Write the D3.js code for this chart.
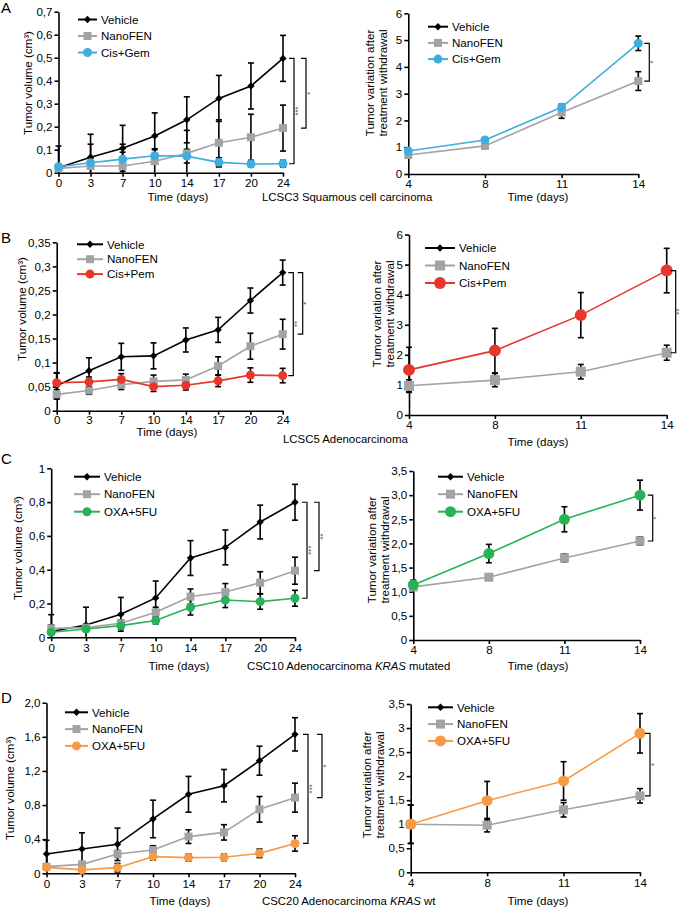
<!DOCTYPE html>
<html><head><meta charset="utf-8">
<script src="https://cdn.jsdelivr.net/npm/d3@7"></script>
<style>body{margin:0;background:#fff}svg{display:block}text{font-family:"Liberation Sans",Arial,sans-serif}</style>
</head><body>
<svg id="c" width="685" height="910"></svg>
<script>
// ---------- data ----------
const days = [0, 3, 7, 10, 14, 17, 20, 24];
const daysW = [4, 8, 11, 14];

// Panel A
const aVehicle = [0.022, 0.067, 0.106, 0.16, 0.23, 0.323, 0.377, 0.497];
const aVehicleErr = [0.094, 0.1, 0.1, 0.1, 0.1, 0.1, 0.1, 0.1];
const aNano = [0.019, 0.029, 0.029, 0.05, 0.084, 0.13, 0.154, 0.194];
const aNanoErr = [0.01, 0.095, 0.095, 0.05, 0.1, 0.1, 0.1, 0.1];
const aCisGem = [0.026, 0.043, 0.059, 0.074, 0.072, 0.045, 0.038, 0.039];
const aCisGemErr = [0.01, 0.02, 0.03, 0.03, 0.03, 0.02, 0.012, 0.015];
const arNano = [0.71, 1.05, 2.3, 3.47];
const arNanoErr = [0.05, 0.1, 0.22, 0.35];
const arCisGem = [0.86, 1.27, 2.49, 4.88];
const arCisGemErr = [0.05, 0.05, 0.12, 0.27];

// Panel B
const bVehicle = [0.052, 0.083, 0.112, 0.114, 0.147, 0.168, 0.229, 0.287];
const bVehicleErr = [0.027, 0.027, 0.028, 0.027, 0.025, 0.026, 0.026, 0.026];
const bNano = [0.034, 0.042, 0.054, 0.061, 0.064, 0.093, 0.134, 0.159];
const bNanoErr = [0.01, 0.008, 0.01, 0.013, 0.012, 0.019, 0.027, 0.031];
const bCisPem = [0.058, 0.06, 0.065, 0.05, 0.053, 0.062, 0.074, 0.073];
const bCisPemErr = [0.02, 0.01, 0.012, 0.01, 0.01, 0.012, 0.015, 0.015];
const brNano = [0.97, 1.16, 1.44, 2.07];
const brNanoErr = [0.2, 0.22, 0.24, 0.25];
const brCisPem = [1.5, 2.14, 3.32, 4.8];
const brCisPemErr = [0.75, 0.74, 0.75, 0.74];

// Panel C
const cVehicle = [0.034, 0.073, 0.136, 0.233, 0.469, 0.532, 0.682, 0.799];
const cVehicleErr = [0.1, 0.105, 0.1, 0.1, 0.103, 0.103, 0.1, 0.106];
const cNano = [0.053, 0.057, 0.083, 0.148, 0.241, 0.268, 0.323, 0.394];
const cNanoErr = [0.02, 0.02, 0.02, 0.03, 0.045, 0.05, 0.065, 0.08];
const cOxa = [0.03, 0.049, 0.069, 0.099, 0.178, 0.221, 0.211, 0.231];
const cOxaErr = [0.01, 0.01, 0.02, 0.02, 0.046, 0.045, 0.045, 0.047];
const crNano = [1.1, 1.3, 1.7, 2.05];
const crNanoErr = [0.05, 0.04, 0.08, 0.08];
const crOxa = [1.14, 1.79, 2.5, 3.0];
const crOxaErr = [0.1, 0.19, 0.26, 0.31];

// Panel D
const dVehicle = [0.227, 0.285, 0.34, 0.637, 0.926, 1.027, 1.32, 1.629];
const dVehicleErr = [0.16, 0.19, 0.19, 0.22, 0.21, 0.19, 0.17, 0.195];
const dNano = [0.078, 0.105, 0.227, 0.273, 0.43, 0.48, 0.75, 0.887];
const dNanoErr = [0.03, 0.03, 0.04, 0.05, 0.08, 0.09, 0.15, 0.17];
const dOxa = [0.07, 0.04, 0.066, 0.195, 0.184, 0.188, 0.234, 0.35];
const dOxaErr = [0.02, 0.02, 0.05, 0.04, 0.04, 0.04, 0.05, 0.09];
const drNano = [1.0, 0.98, 1.3, 1.59];
const drNanoErr = [0.4, 0.14, 0.15, 0.15];
const drOxa = [1.0, 1.49, 1.9, 2.89];
const drOxaErr = [0.4, 0.4, 0.4, 0.41];

// tick labels
const ticksA = [0, 0.1, 0.2, 0.3, 0.4, 0.5, 0.6, 0.7];
const ticksB = [0, 0.05, 0.1, 0.15, 0.2, 0.25, 0.3, 0.35];
const ticksC = [0, 0.2, 0.4, 0.6, 0.8, 1];
const ticksD = [0, 0.4, 0.8, 1.2, 1.6, 2.0];
const ticks6 = [0, 1, 2, 3, 4, 5, 6];
const ticks35 = [0, 0.5, 1, 1.5, 2, 2.5, 3, 3.5];

const labelsVehicle = "Vehicle", labelsNano = "NanoFEN";

// ---------- styles ----------
const COL = {black: "#000", gray: "#a3a3a3", blue: "#3eaede", red: "#e7372c", green: "#27b257", orange: "#f79a45"};
const FS = 11.6;

const trim = v => v === 0 ? "0" : String(+v.toFixed(2)).replace(".", ",");
const fix1 = v => v === 0 ? "0" : v.toFixed(1).replace(".", ",");
const intf = v => String(v);

const svg = d3.select("#c");

function marker(g, shape, cx, cy, color, s) {
  if (shape === "diamond") {
    g.append("rect").attr("x", cx - s.d).attr("y", cy - s.d).attr("width", 2 * s.d).attr("height", 2 * s.d)
      .attr("transform", `rotate(45,${cx},${cy})`).attr("fill", color);
  } else if (shape === "square") {
    g.append("rect").attr("x", cx - s.sq).attr("y", cy - s.sq).attr("width", 2 * s.sq).attr("height", 2 * s.sq).attr("fill", color);
  } else {
    g.append("circle").attr("cx", cx).attr("cy", cy).attr("r", s.r).attr("fill", color);
  }
}

function panel(p) {
  const g = svg.append("g");
  const x = d3.scalePoint().domain(p.days).range([p.x0, p.x1]);
  const y = d3.scaleLinear().domain([0, p.yMax]).range([p.yB, p.yT]);

  // axes
  const ya = g.append("g").attr("transform", `translate(${p.x0},0)`)
    .call(d3.axisLeft(y).tickValues(p.ticks).tickFormat(p.fmt).tickSize(4).tickSizeOuter(0).tickPadding(2));
  const xa = g.append("g").attr("transform", `translate(0,${p.yB})`)
    .call(d3.axisBottom(x).tickSize(4).tickSizeOuter(0).tickPadding(p.xpad || 2));
  [ya, xa].forEach(a => {
    a.selectAll("path,line").attr("stroke", "#000").attr("stroke-width", 1.6);
    a.selectAll("text").attr("font-size", FS).attr("fill", "#000").attr("font-family", '"Liberation Sans",Arial,sans-serif');
  });

  // lines
  p.series.forEach(s => {
    if (!s.vals) return;
    g.append("path").datum(s.vals)
      .attr("d", d3.line().x((d, i) => x(p.days[i])).y(d => y(d)))
      .attr("fill", "none").attr("stroke", s.color).attr("stroke-width", 1.6);
  });
  // error bars
  p.series.forEach(s => {
    if (!s.vals) return;
    s.vals.forEach((v, i) => {
      const cx = x(p.days[i]);
      const lo = y(Math.max(0, v - s.errs[i])), hi = y(v + s.errs[i]);
      g.append("line").attr("x1", cx).attr("x2", cx).attr("y1", lo).attr("y2", hi).attr("stroke", "#000").attr("stroke-width", 1.6);
      [hi, v - s.errs[i] > 0 ? lo : null].forEach(yy => {
        if (yy === null) return;
        g.append("line").attr("x1", cx - 3).attr("x2", cx + 3).attr("y1", yy).attr("y2", yy).attr("stroke", "#000").attr("stroke-width", 1.6);
      });
    });
  });
  // markers
  p.series.forEach(s => {
    if (!s.vals) return;
    s.vals.forEach((v, i) => marker(g, s.shape, x(p.days[i]), y(v), s.color, p.ms));
  });

  // legend
  p.series.forEach((s, i) => {
    const ly = p.leg.y + i * p.leg.dy;
    g.append("line").attr("x1", p.leg.x).attr("x2", p.leg.x + p.leg.len).attr("y1", ly).attr("y2", ly)
      .attr("stroke", s.color).attr("stroke-width", 2);
    marker(g, s.shape, p.leg.x + p.leg.len / 2, ly, s.color, p.ms);
    g.append("text").attr("x", p.leg.x + p.leg.len + 4).attr("y", ly + 4.2).attr("font-size", FS).text(s.name);
  });

  // significance brackets
  const last = p.days.length - 1;
  p.brackets.forEach(b => {
    const ya1 = y(p.series[b.a].vals[last]), yb1 = y(p.series[b.b].vals[last]);
    const bx = p.x1 + b.dx;
    g.append("path").attr("d", `M${bx - 5},${ya1}H${bx}V${yb1}H${bx - 5}`).attr("fill", "none").attr("stroke", "#000").attr("stroke-width", 1.2);
    const my = (ya1 + yb1) / 2;
    g.append("text").attr("transform", `translate(${bx - 1.5},${my}) rotate(90)`).attr("text-anchor", "middle")
      .attr("font-size", 8).attr("fill", "#444").text(b.label);
  });

  // axis titles
  if (p.ytitle.length === 1) {
    g.append("text").attr("transform", `translate(${p.ytx},${p.yty}) rotate(-90)`).attr("text-anchor", "middle")
      .attr("font-size", FS).text(p.ytitle[0]);
  } else {
    p.ytitle.forEach((t, i) => g.append("text").attr("transform", `translate(${p.ytx + i * 13.3},${p.yty}) rotate(-90)`)
      .attr("text-anchor", "middle").attr("font-size", FS).text(t));
  }
  g.append("text").attr("x", p.xtx).attr("y", p.xty).attr("text-anchor", "middle").attr("font-size", FS).text("Time (days)");
}

const leftTitle = ["Tumor volume (cm³)"];
const rightTitle = ["Tumor variation after", "treatment withdrawal"];
const msL = {d: 2.6, sq: 4, r: 4.5};
const msR = {d: 2.6, sq: 4.5, r: 5.5};

const panels = [
  // A
  {days, x0: 58.5, x1: 283, yB: 172.7, yT: 11.7, yMax: 0.7, ticks: ticksA, fmt: fix1, ms: msL,
   series: [{name: labelsVehicle, vals: aVehicle, errs: aVehicleErr, color: COL.black, shape: "diamond"},
            {name: labelsNano, vals: aNano, errs: aNanoErr, color: COL.gray, shape: "square"},
            {name: "Cis+Gem", vals: aCisGem, errs: aCisGemErr, color: COL.blue, shape: "circle"}],
   leg: {x: 78, y: 19.5, dy: 16.5, len: 19}, brackets: [{a: 0, b: 2, dx: 11, label: "***"}, {a: 0, b: 1, dx: 23, label: "*"}],
   ytitle: leftTitle, ytx: 32, yty: 83, xtx: 178, xty: 201},
  {days: daysW, x0: 408.3, x1: 638.3, yB: 174, yT: 13.3, yMax: 6, ticks: ticks6, fmt: intf, ms: msL,
   series: [{name: labelsVehicle, vals: null, color: COL.black, shape: "diamond"},
            {name: labelsNano, vals: arNano, errs: arNanoErr, color: COL.gray, shape: "square"},
            {name: "Cis+Gem", vals: arCisGem, errs: arCisGemErr, color: COL.blue, shape: "circle"}],
   leg: {x: 428, y: 26.7, dy: 16.2, len: 20}, brackets: [{a: 2, b: 1, dx: 11, label: "*"}],
   ytitle: rightTitle, ytx: 374, yty: 83, xtx: 538, xty: 201},
  // B
  {days, x0: 56.7, x1: 282.7, yB: 410.7, yT: 242.3, yMax: 0.35, ticks: ticksB, fmt: trim, ms: msL, xpad: 1,
   series: [{name: labelsVehicle, vals: bVehicle, errs: bVehicleErr, color: COL.black, shape: "diamond"},
            {name: labelsNano, vals: bNano, errs: bNanoErr, color: COL.gray, shape: "square"},
            {name: "Cis+Pem", vals: bCisPem, errs: bCisPemErr, color: COL.red, shape: "circle"}],
   leg: {x: 77, y: 244.3, dy: 14.9, len: 26}, brackets: [{a: 0, b: 2, dx: 10.6, label: "**"}, {a: 0, b: 1, dx: 20, label: "*"}],
   ytitle: leftTitle, ytx: 26, yty: 309, xtx: 167, xty: 436},
  {days: daysW, x0: 409, x1: 666.7, yB: 415, yT: 234.5, yMax: 6, ticks: ticks6, fmt: intf, ms: {d: 2.6, sq: 5, r: 6},
   series: [{name: labelsVehicle, vals: null, color: COL.black, shape: "diamond"},
            {name: labelsNano, vals: brNano, errs: brNanoErr, color: COL.gray, shape: "square"},
            {name: "Cis+Pem", vals: brCisPem, errs: brCisPemErr, color: COL.red, shape: "circle"}],
   leg: {x: 425, y: 248, dy: 17.5, len: 30}, brackets: [{a: 2, b: 1, dx: 9, label: "**"}],
   ytitle: rightTitle, ytx: 381, yty: 314, xtx: 538, xty: 446},
  // C
  {days, x0: 51.2, x1: 295, yB: 637.3, yT: 468.3, yMax: 1, ticks: ticksC, fmt: trim, ms: msL,
   series: [{name: labelsVehicle, vals: cVehicle, errs: cVehicleErr, color: COL.black, shape: "diamond"},
            {name: labelsNano, vals: cNano, errs: cNanoErr, color: COL.gray, shape: "square"},
            {name: "OXA+5FU", vals: cOxa, errs: cOxaErr, color: COL.green, shape: "circle"}],
   leg: {x: 74, y: 476.7, dy: 17.5, len: 26}, brackets: [{a: 0, b: 2, dx: 12, label: "***"}, {a: 0, b: 1, dx: 24, label: "**"}],
   ytitle: leftTitle, ytx: 22, yty: 548, xtx: 179, xty: 670},
  {days: daysW, x0: 413.3, x1: 640, yB: 640, yT: 471, yMax: 3.5, ticks: ticks35, fmt: fix1, ms: msR,
   series: [{name: labelsVehicle, vals: null, color: COL.black, shape: "diamond"},
            {name: labelsNano, vals: crNano, errs: crNanoErr, color: COL.gray, shape: "square"},
            {name: "OXA+5FU", vals: crOxa, errs: crOxaErr, color: COL.green, shape: "circle"}],
   leg: {x: 438, y: 476.7, dy: 17.5, len: 25}, brackets: [{a: 2, b: 1, dx: 12.7, label: "*"}],
   ytitle: rightTitle, ytx: 376, yty: 550, xtx: 538, xty: 670},
  // D
  {days, x0: 46.5, x1: 295, yB: 873.3, yT: 702.7, yMax: 2, ticks: ticksD, fmt: fix1, ms: msL,
   series: [{name: labelsVehicle, vals: dVehicle, errs: dVehicleErr, color: COL.black, shape: "diamond"},
            {name: labelsNano, vals: dNano, errs: dNanoErr, color: COL.gray, shape: "square"},
            {name: "OXA+5FU", vals: dOxa, errs: dOxaErr, color: COL.orange, shape: "circle"}],
   leg: {x: 65, y: 712.3, dy: 16.8, len: 23}, brackets: [{a: 0, b: 2, dx: 13, label: "***"}, {a: 0, b: 1, dx: 27, label: "*"}],
   ytitle: leftTitle, ytx: 14, yty: 788, xtx: 180, xty: 905},
  {days: daysW, x0: 410.7, x1: 640, yB: 872.3, yT: 704, yMax: 3.5, ticks: ticks35, fmt: trim, ms: msR,
   series: [{name: labelsVehicle, vals: null, color: COL.black, shape: "diamond"},
            {name: labelsNano, vals: drNano, errs: drNanoErr, color: COL.gray, shape: "square"},
            {name: "OXA+5FU", vals: drOxa, errs: drOxaErr, color: COL.orange, shape: "circle"}],
   leg: {x: 428, y: 707.3, dy: 16.8, len: 25}, brackets: [{a: 2, b: 1, dx: 10, label: "*"}],
   ytitle: rightTitle, ytx: 371, yty: 785, xtx: 538, xty: 905}
];
panels.forEach(panel);

// panel letters
[["A", 13], ["B", 243], ["C", 464], ["D", 703]].forEach(([t, yy]) =>
  svg.append("text").attr("x", 1).attr("y", yy).attr("font-size", 15).text(t));

// model captions
function caption(x0, y0, parts) {
  const t = svg.append("text").attr("x", x0).attr("y", y0).attr("font-size", 11.4);
  parts.forEach(([s, it]) => t.append("tspan").attr("font-style", it ? "italic" : "normal").text(s));
}
caption(262, 201, [["LCSC3 Squamous cell carcinoma", false]]);
caption(283, 443, [["LCSC5 Adenocarcinoma", false]]);
caption(247, 670, [["CSC10 Adenocarcinoma ", false], ["KRAS", true], [" mutated", false]]);
caption(262, 905, [["CSC20 Adenocarcinoma ", false], ["KRAS", true], [" wt", false]]);
</script>
</body></html>
